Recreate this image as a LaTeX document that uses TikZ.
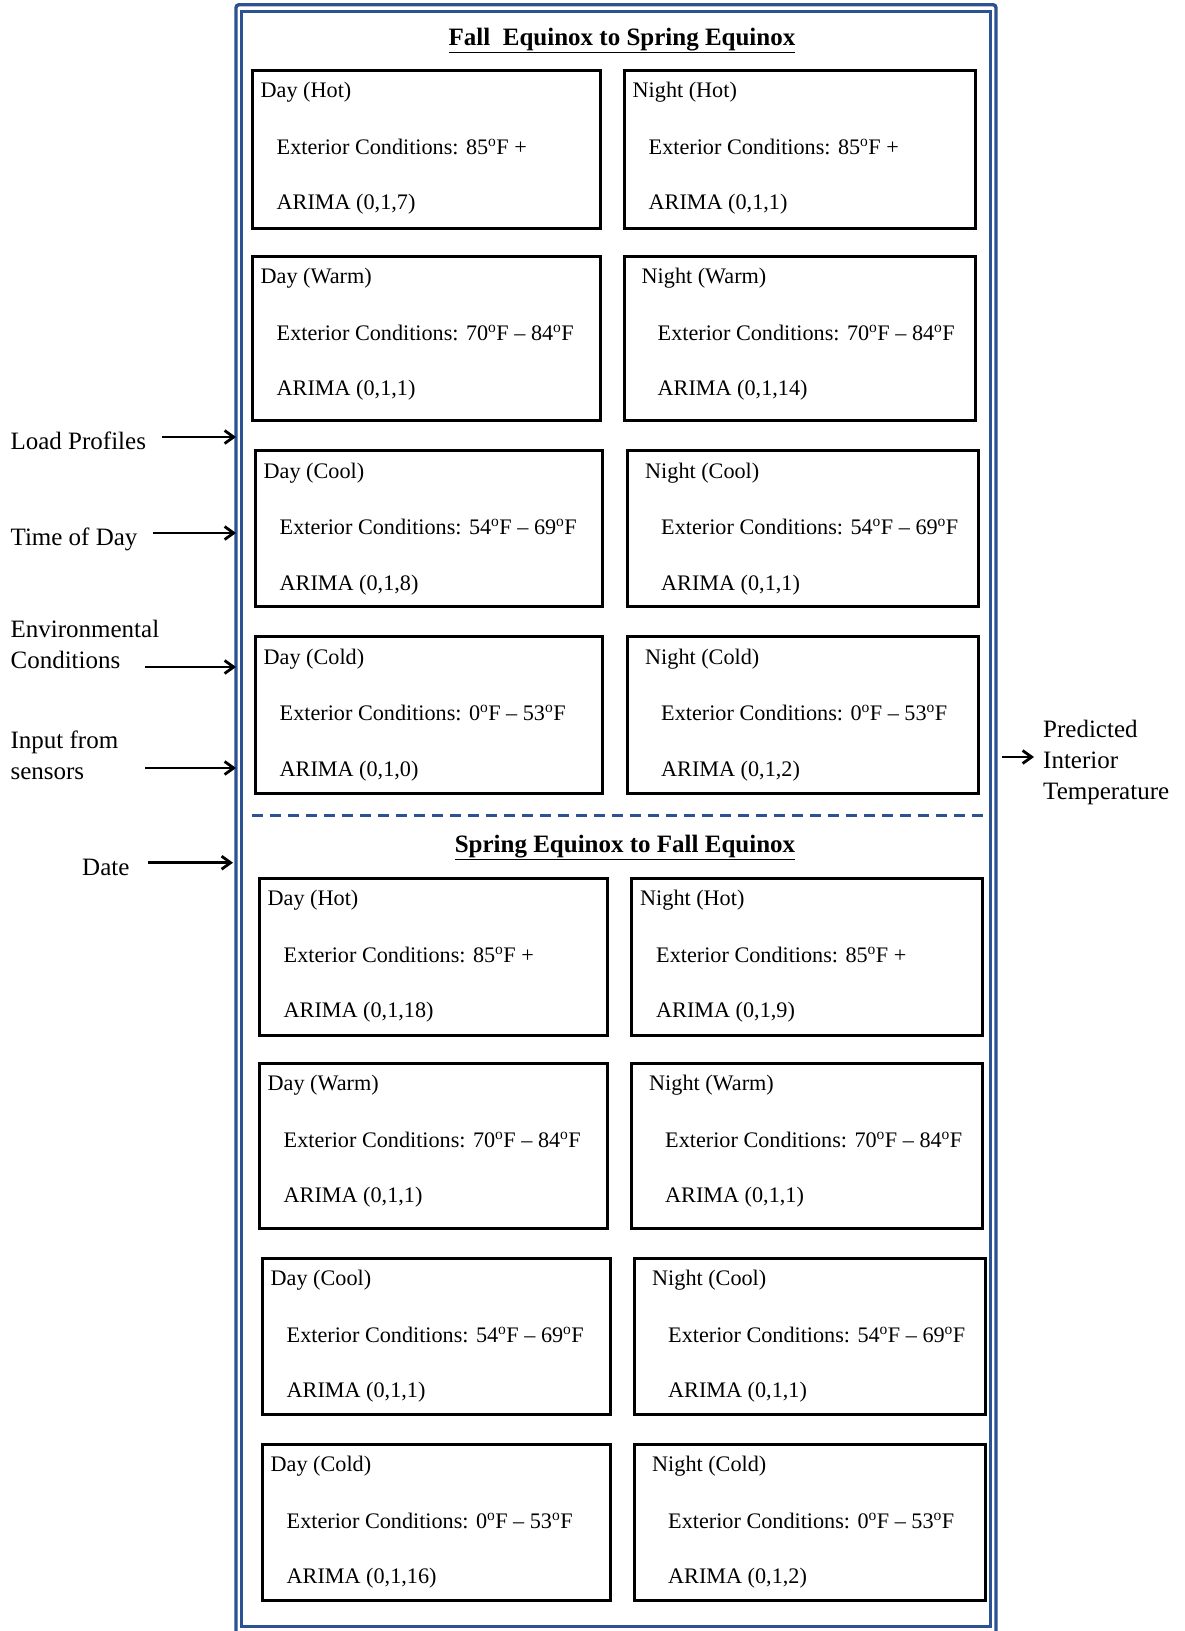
\documentclass[tikz,border=0pt]{standalone}
\usepackage{fontspec}
\setmainfont{Liberation Serif}
\usetikzlibrary{arrows.meta}
\definecolor{frameblue}{RGB}{44,82,145}

\newcommand\degsup{\textsuperscript{o}}
% #1 name, #2 left, #3 top, #4 right, #5 bottom, #6 text inset,
% #7 heading, #8 exterior conditions, #9 model order
\newcommand\modelbox[9]{%
  \node[mbox, minimum width={(#4)-(#2)}, minimum height={(#5)-(#3)}] (#1) at (#2,#3) {};
  \node[boxtxt] (#1-h) at ({#2+#6},{#3+27.5}) {#7};
  \node[boxtxt] (#1-e) at ({#2+#6+16},{#3+84}) {Exterior Conditions: #8};
  \node[boxtxt] (#1-m) at ({#2+#6+16},{#3+139.5}) {ARIMA (#9)};
}

\begin{document}
\begin{tikzpicture}[x=1pt,y=-1pt,
  mbox/.style={draw=black, line width=3pt, rectangle, inner sep=0pt, outer sep=0pt, anchor=north west},
  boxtxt/.style={anchor=base west, inner sep=0pt, font=\fontsize{22.2}{27}\selectfont},
  sidetxt/.style={anchor=base west, inner sep=0pt, font=\fontsize{25}{31}\selectfont},
  ttl/.style={anchor=base, inner sep=0pt, font=\bfseries\fontsize{25}{30}\selectfont},
  inarrow/.style={draw=black, line width=2.8pt, -{Straight Barb[length=9pt,width=13pt]}},
]
\useasboundingbox (0,0) rectangle (1184,1631);

% double frame around the model set
\draw[frameblue, line width=3.4pt, rounded corners=3pt] (236,4.7) rectangle (996,1645);
\draw[frameblue, line width=2.8pt] (241.7,11.3) rectangle (990.7,1626.7);

% season separator
\coordinate (sepL) at (252,815.7);
\coordinate (sepR) at (986,815.7);
\draw[frameblue, line width=2.7pt, dash pattern=on 11pt off 7pt] (sepL) -- (sepR);

% section headings
\node[ttl] (ttlA) at (622,45) {\underline{Fall\ \ Equinox to Spring Equinox}};
\node[ttl] (ttlB) at (625,852) {\underline{Spring Equinox to Fall Equinox}};

% fall to spring models
\modelbox{fd1}{252}{70}{600}{228}{8.5}{Day (Hot)}{85\degsup F +}{0,1,7}
\modelbox{fn1}{624}{70}{975}{228}{8.5}{Night (Hot)}{85\degsup F +}{0,1,1}
\modelbox{fd2}{252}{256}{600}{420}{8.5}{Day (Warm)}{70\degsup F -- 84\degsup F}{0,1,1}
\modelbox{fn2}{624}{256}{975}{420}{17.5}{Night (Warm)}{70\degsup F -- 84\degsup F}{0,1,14}
\modelbox{fd3}{255}{450.5}{602.5}{606.5}{8.5}{Day (Cool)}{54\degsup F -- 69\degsup F}{0,1,8}
\modelbox{fn3}{627.5}{450.5}{978}{606.5}{17.5}{Night (Cool)}{54\degsup F -- 69\degsup F}{0,1,1}
\modelbox{fd4}{255}{636.5}{602.5}{793}{8.5}{Day (Cold)}{0\degsup F -- 53\degsup F}{0,1,0}
\modelbox{fn4}{627.5}{636.5}{978}{793}{17.5}{Night (Cold)}{0\degsup F -- 53\degsup F}{0,1,2}

% spring to fall models
\modelbox{sd1}{259}{878}{607.5}{1035}{8.5}{Day (Hot)}{85\degsup F +}{0,1,18}
\modelbox{sn1}{631.5}{878}{982}{1035}{8.5}{Night (Hot)}{85\degsup F +}{0,1,9}
\modelbox{sd2}{259}{1063}{607.5}{1228}{8.5}{Day (Warm)}{70\degsup F -- 84\degsup F}{0,1,1}
\modelbox{sn2}{631.5}{1063}{982}{1228}{17.5}{Night (Warm)}{70\degsup F -- 84\degsup F}{0,1,1}
\modelbox{sd3}{262}{1258}{610.5}{1414}{8.5}{Day (Cool)}{54\degsup F -- 69\degsup F}{0,1,1}
\modelbox{sn3}{634.5}{1258}{985}{1414}{17.5}{Night (Cool)}{54\degsup F -- 69\degsup F}{0,1,1}
\modelbox{sd4}{262}{1444}{610.5}{1600}{8.5}{Day (Cold)}{0\degsup F -- 53\degsup F}{0,1,16}
\modelbox{sn4}{634.5}{1444}{985}{1600}{17.5}{Night (Cold)}{0\degsup F -- 53\degsup F}{0,1,2}

% inputs
\node[sidetxt] (inLoad) at (10.4,449) {Load Profiles};
\node[sidetxt] (inTime) at (10.4,545) {Time of Day};
\node[sidetxt] (inEnvA) at (10.4,637) {Environmental};
\node[sidetxt] (inEnvB) at (10.4,668) {Conditions};
\node[sidetxt] (inSenA) at (10.4,748) {Input from};
\node[sidetxt] (inSenB) at (10.4,779) {sensors};
\node[sidetxt] (inDate) at (82,875) {Date};

\coordinate (aLoad1) at (162,437);   \coordinate (aLoad2) at (236,437);
\coordinate (aTime1) at (153,533);   \coordinate (aTime2) at (236,533);
\coordinate (aEnv1)  at (145,667);   \coordinate (aEnv2)  at (236,667);
\coordinate (aSen1)  at (145,768);   \coordinate (aSen2)  at (236,768);
\coordinate (aDate1) at (148,862.7); \coordinate (aDate2) at (233,862.7);
\draw[inarrow] (aLoad1) -- (aLoad2);
\draw[inarrow] (aTime1) -- (aTime2);
\draw[inarrow] (aEnv1) -- (aEnv2);
\draw[inarrow] (aSen1) -- (aSen2);
\draw[inarrow] (aDate1) -- (aDate2);

% output
\coordinate (aOut1) at (1002,757); \coordinate (aOut2) at (1034,757);
\draw[inarrow] (aOut1) -- (aOut2);
\node[sidetxt] (outA) at (1043,737) {Predicted};
\node[sidetxt] (outB) at (1043,768) {Interior};
\node[sidetxt] (outC) at (1043,799) {Temperature};
\end{tikzpicture}
\end{document}
